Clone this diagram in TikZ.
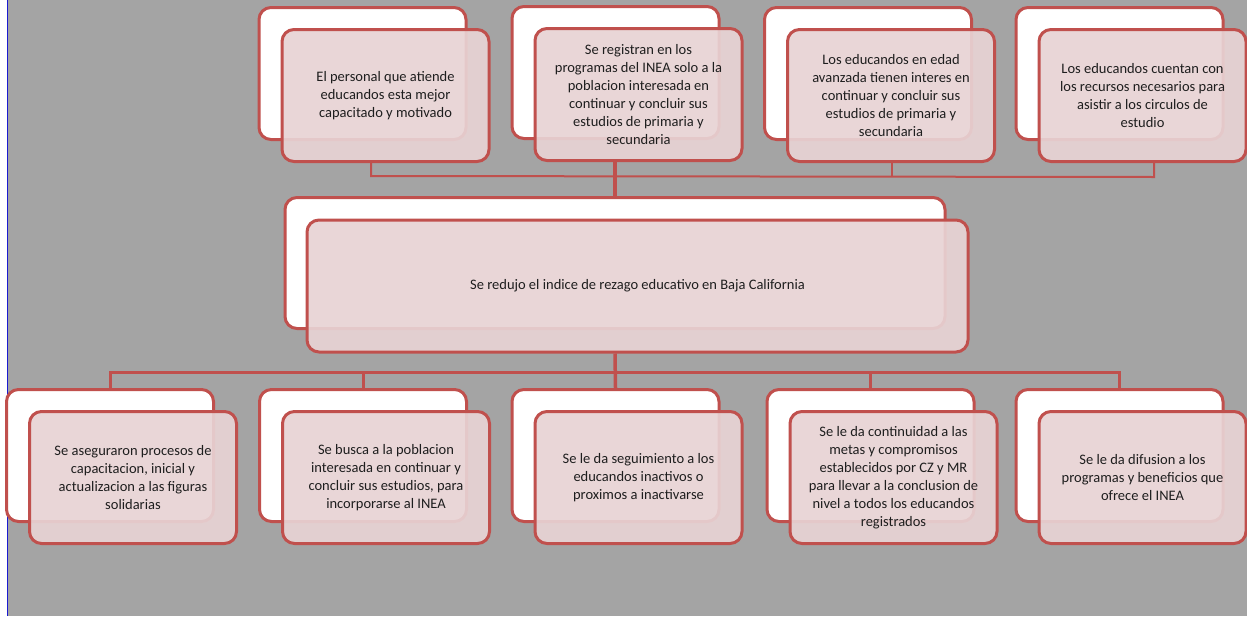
\documentclass[tikz,border=0pt]{standalone}
\usepackage{fontspec}
\setmainfont{Carlito}
\usetikzlibrary{calc,backgrounds}
\definecolor{bred}{HTML}{C0504D}
\definecolor{bg}{HTML}{A4A4A4}
\definecolor{pinkf}{RGB}{232,211,212}
\definecolor{txt}{HTML}{1E1E1E}
\definecolor{edgeblue}{HTML}{1A1AD0}
\tikzset{
  boxbase/.style={draw=bred, line width=3pt, rounded corners=12pt, minimum width=207pt, minimum height=132pt, inner sep=0pt},
  backbox/.style={boxbase, fill=white},
  frontbox/.style={boxbase, fill=pinkf, fill opacity=0.92, text opacity=1, text=txt, align=center, font=\fontsize{14.5}{18}\selectfont},
  thinconn/.style={draw=bred, line width=2pt},
  midconn/.style={draw=bred, line width=3pt},
  thickconn/.style={draw=bred, line width=3.5pt},
}
\begin{document}
\begin{tikzpicture}[x=1pt,y=-1pt]
\useasboundingbox (0,0) rectangle (1247,616);
\begin{pgfonlayer}{background}
  \fill[white] (0,0) rectangle (1247,616);
  \fill[bg] (8,0) rectangle (1247,616);
  \draw[edgeblue, line width=1pt] (7.5,0) -- (7.5,616);
\end{pgfonlayer}

% top row
\node[backbox] (t1b) at (362.5,73.5) {};
\node[frontbox] (t1) at (385.5,95.5) {El personal que atiende\\educandos esta mejor\\capacitado y motivado};
\node[backbox] (t2b) at (615.5,72.5) {};
\node[frontbox] (t2) at (638.5,94.5) {Se registran en los\\programas del INEA solo a la\\poblacion interesada en\\continuar y concluir sus\\estudios de primaria y\\secundaria};
\node[backbox] (t3b) at (868,73.5) {};
\node[frontbox] (t3) at (891,95.5) {Los educandos en edad\\avanzada tienen interes en\\continuar y concluir sus\\estudios de primaria y\\secundaria};
\node[backbox] (t4b) at (1119.5,73.5) {};
\node[frontbox] (t4) at (1142.5,95.5) {Los educandos cuentan con\\los recursos necesarios para\\asistir a los circulos de\\estudio};

% center
\node[backbox, minimum width=660pt, minimum height=131pt] (cb) at (615,263) {};
\node[frontbox, minimum width=661pt] (cf) at (637.5,286) {Se redujo el indice de rezago educativo en Baja California};

% bottom row
\node[backbox] (b1b) at (110,455.5) {};
\node[frontbox] (b1) at (133,477.5) {Se aseguraron procesos de\\capacitacion, inicial y\\actualizacion a las figuras\\solidarias};
\node[backbox] (b2b) at (363,455.5) {};
\node[frontbox] (b2) at (386,477.5) {Se busca a la poblacion\\interesada en continuar y\\concluir sus estudios, para\\incorporarse al INEA};
\node[backbox] (b3b) at (615.5,455.5) {};
\node[frontbox] (b3) at (638.5,477.5) {Se le da seguimiento a los\\educandos inactivos o\\proximos a inactivarse};
\node[backbox] (b4b) at (870.5,455.5) {};
\node[frontbox] (b4) at (893.5,477.5) {Se le da continuidad a las\\metas y compromisos\\establecidos por CZ y MR\\para llevar a la conclusion de\\nivel a todos los educandos\\registrados};
\node[backbox] (b5b) at (1119.5,455.5) {};
\node[frontbox] (b5) at (1142.5,477.5) {Se le da difusion a los\\programas y beneficios que\\ofrece el INEA};

\begin{pgfonlayer}{background}
  % top connectors
  \coordinate (d1) at (371,176);
  \coordinate (d3) at (892,176);
  \coordinate (d4) at (1154,177);
  \draw[thinconn] (t1.south -| d1) -- (d1) -- (d4) -- (t4.south -| d4);
  \draw[thinconn] (t3.south -| d3) -- (d3);
  \draw[thickconn] (t2.south -| cb.north) -- (cb.north);
  % bottom connectors
  \coordinate (bb) at (615,372);
  \draw[thickconn] (cf.south -| cb.north) -- (b3b.north);
  \draw[midconn] (b1b.north) -- (b1b.north |- bb) -- (b5b.north |- bb) -- (b5b.north);
  \draw[midconn] (b2b.north) -- (b2b.north |- bb);
  \draw[midconn] (b4b.north) -- (b4b.north |- bb);
\end{pgfonlayer}
\end{tikzpicture}
\end{document}
